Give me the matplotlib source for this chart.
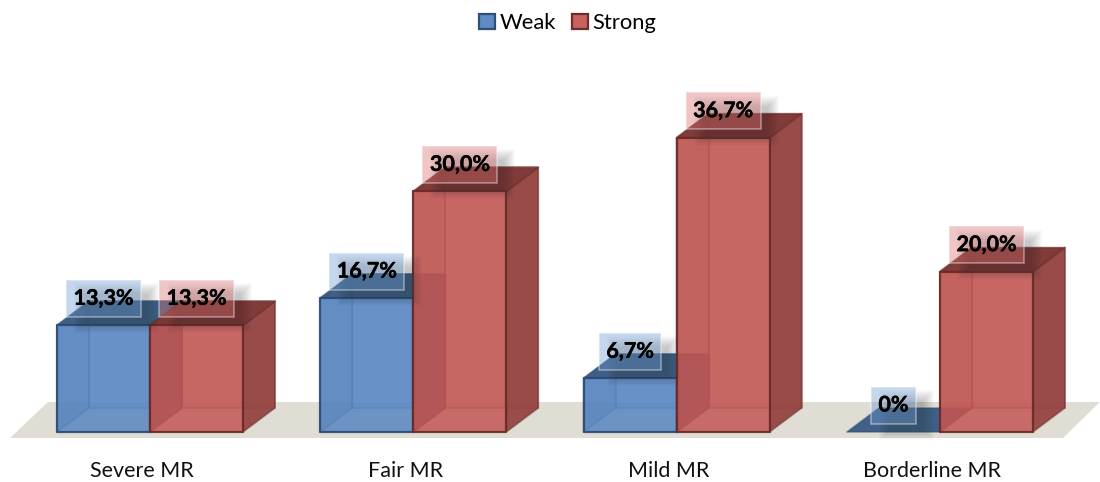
import matplotlib
matplotlib.use('Agg')
import matplotlib.pyplot as plt
import matplotlib.patheffects as pe
from matplotlib.patches import Polygon, Rectangle, Patch

categories = ['Severe MR', 'Fair MR', 'Mild MR', 'Borderline MR']
weak = [13.3, 16.7, 6.7, 0]
strong = [13.3, 30.0, 36.7, 20.0]
weak_labels = ['13,3%', '16,7%', '6,7%', '0%']
strong_labels = ['13,3%', '30,0%', '36,7%', '20,0%']

plt.rcParams['font.family'] = ['Lato', 'DejaVu Sans']

# chart scale, worked out from the picture
px_x = 263.3      # pixels for one category
px_y = 8.02       # pixels for one percent
zero_x = 150.0
zero_y = 432.0
bottom_y = 446.0
bar_w = 93 / px_x
dep_x = 32 / px_x
dep_y = 24 / px_y

fig = plt.figure(figsize=(11, 4.82), dpi=100)
ax = fig.add_axes([0, 1 - bottom_y / 482, 1, bottom_y / 482])
ax.set_xlim(-zero_x / px_x, (1100 - zero_x) / px_x)
ax.set_ylim(-(bottom_y - zero_y) / px_y, zero_y / px_y)
for s in ax.spines.values():
    s.set_visible(False)
ax.set_yticks([])
positions = list(range(len(categories)))
ax.set_xticks([p - 8 / px_x for p in positions])
ax.set_xticklabels(categories, fontsize=15.5, color='#111111')
ax.tick_params(axis='x', length=0, pad=11)

# floor
fl = -6 / px_y
ax.add_patch(Polygon([(-140 / px_x, fl), (913 / px_x, fl),
                      (950 / px_x, 30 / px_y), (-102 / px_x, 30 / px_y)],
                     facecolor='#e0ddd5', edgecolor='none', zorder=1))


def draw_bar(x, h, front, side, top, edge, z):
    x1 = x + bar_w
    bx, by = dep_x, dep_y
    inner = dict(edgecolor=edge + (0.45,), linewidth=1.3, zorder=z, joinstyle='round')
    outer = dict(edgecolor=edge + (0.9,), linewidth=1.6, zorder=z, joinstyle='round')
    # back, floor and left faces show through the front
    if h > 0:
        ax.add_patch(Polygon([(x + bx, by), (x1 + bx, by), (x1 + bx, h + by), (x + bx, h + by)],
                             facecolor=front + (0.35,), **inner))
        ax.add_patch(Polygon([(x, 0), (x + bx, by), (x + bx, h + by), (x, h)],
                             facecolor=side + (0.45,), **inner))
        ax.add_patch(Polygon([(x1, 0), (x1 + bx, by), (x1 + bx, h + by), (x1, h)],
                             facecolor=side + (0.95,), **inner))
    ax.add_patch(Polygon([(x, h), (x1, h), (x1 + bx, h + by), (x + bx, h + by)],
                         facecolor=top + (0.97,), **inner))
    if h > 0:
        ax.add_patch(Rectangle((x, 0), bar_w, h, facecolor=front + (0.85,), **outer))


blue = ((0.345, 0.525, 0.76), (0.22, 0.36, 0.55), (0.235, 0.36, 0.52), (0.16, 0.29, 0.45))
red = ((0.76, 0.34, 0.33), (0.58, 0.27, 0.26), (0.49, 0.22, 0.21), (0.41, 0.16, 0.15))

for i in positions:
    draw_bar(i - bar_w, weak[i], *blue, 3 + i * 0.1)
    draw_bar(i, strong[i], *red, 3.05 + i * 0.1)


def draw_label(x, h, txt, fill):
    t = ax.text(x, h + 27 / px_y, txt, ha='center', va='center', fontsize=15.5,
                fontweight='bold', color='black', zorder=12,
                path_effects=[pe.withStroke(linewidth=0.3, foreground='black')])
    fig.canvas.draw()
    w = t.get_window_extent().width + 15
    # soft shadow, then the see-through box
    for g in range(12):
        ax.add_patch(Rectangle((x - w / 2 / px_x + (8 + g) / px_x, h + (-8 + g) / px_y),
                               (w + 10 - 2 * g) / px_x, (50 - 2 * g) / px_y,
                               facecolor='#303030', alpha=0.022, edgecolor='none', zorder=10))
    ax.add_patch(Rectangle((x - w / 2 / px_x, h + 8.5 / px_y), w / px_x, 37 / px_y,
                           facecolor=fill, alpha=0.4, edgecolor=(1, 1, 1, 0.6), linewidth=1.2, zorder=11))


for i in positions:
    draw_label(i - bar_w / 2, weak[i], weak_labels[i], '#6f9bd1')
    draw_label(i + bar_w / 2, strong[i], strong_labels[i], '#d9706e')

handles = [Patch(facecolor='#5f8bc4', edgecolor='#2d4f78', linewidth=1.6, label='Weak'),
           Patch(facecolor='#c9625f', edgecolor='#6e2d2c', linewidth=1.6, label='Strong')]
ax.legend(handles=handles, ncol=2, frameon=False, fontsize=15.8,
          loc='upper center', bbox_to_anchor=(0.516, 1.015),
          handlelength=0.72, handleheight=0.72, handletextpad=0.2, columnspacing=0.75)

fig.savefig('out.png', dpi=100)
